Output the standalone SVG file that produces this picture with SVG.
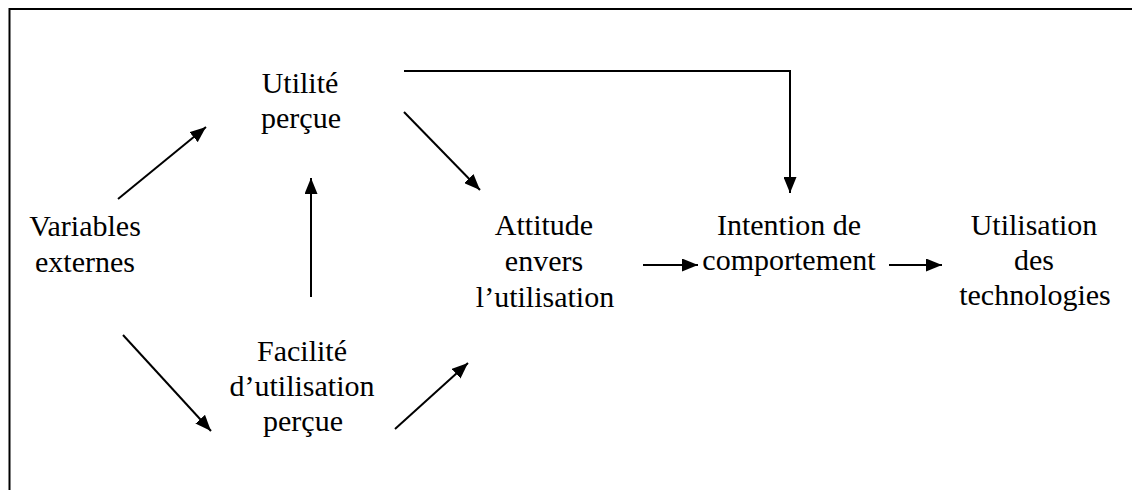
<svg xmlns="http://www.w3.org/2000/svg" width="1132" height="490" viewBox="0 0 1132 490">
<style>
text{font-family:"Liberation Serif","DejaVu Serif",serif;font-size:30px;fill:#000;text-anchor:middle}
.c{stroke:#000;stroke-width:2;fill:none;marker-end:url(#ah)}
.b{stroke:#000;stroke-width:2;fill:none}
</style>
<defs>
<marker id="ah" markerUnits="userSpaceOnUse" markerWidth="16" markerHeight="13" refX="16" refY="6.5" orient="auto">
<path d="M0,0 L16,6.5 L0,13 z" fill="#000"/>
</marker>
</defs>
<rect width="1132" height="490" fill="#fff"/>
<g id="frame"><path class="b" d="M9.5,490 V9 H1132"/></g>
<g id="n-variables" font-family="Liberation Serif, serif"><text x="85" y="236">Variables</text><text x="85" y="272">externes</text></g>
<g id="n-utilite"><text x="300" y="93">Utilité</text><text x="301" y="128">perçue</text></g>
<g id="n-facilite"><text x="302" y="361">Facilité</text><text x="302" y="396">d’utilisation</text><text x="303" y="431">perçue</text></g>
<g id="n-attitude"><text x="544" y="235">Attitude</text><text x="544" y="271">envers</text><text x="545" y="307">l’utilisation</text></g>
<g id="n-intention"><text x="789" y="235">Intention de</text><text x="789" y="270">comportement</text></g>
<g id="n-utilisation"><text x="1034" y="235">Utilisation</text><text x="1034" y="270">des</text><text x="1035" y="305">technologies</text></g>
<g id="connectors">
<line class="c" x1="118" y1="199" x2="206" y2="127"/>
<line class="c" x1="123" y1="335" x2="211" y2="431"/>
<line class="c" x1="311" y1="297" x2="311" y2="178"/>
<line class="c" x1="395" y1="429" x2="468" y2="363"/>
<line class="c" x1="404" y1="112" x2="480" y2="190"/>
<path class="c" d="M404,71 H790 V193"/>
<line class="c" x1="643" y1="265" x2="698" y2="265"/>
<line class="c" x1="889" y1="265" x2="942" y2="265"/>
</g>
</svg>
